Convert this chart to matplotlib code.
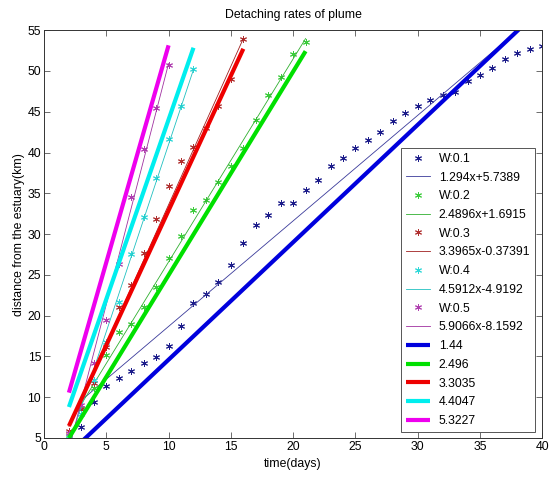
import numpy as np
import matplotlib
matplotlib.use("Agg")
import matplotlib.pyplot as plt

plt.rcParams["font.family"] = ["Liberation Sans", "DejaVu Sans"]
plt.rcParams["font.size"] = 8.8

# measured points (day, distance km) for each width W
days_w1 = np.arange(3, 41)
dist_w1 = [6.4, 9.4, 11.4, 12.3, 13.2, 14.2, 14.9, 16.3, 18.7, 21.6,
           22.7, 24.1, 26.2, 28.9, 31.1, 32.4, 33.8, 33.8, 35.4, 36.6,
           38.3, 39.3, 40.6, 41.5, 42.5, 43.9, 44.8, 45.7, 46.5, 47.0,
           47.4, 48.8, 49.5, 50.4, 51.5, 52.2, 52.7, 53.1]
days_w2 = np.arange(2, 22)
dist_w2 = [5.0, 8.7, 11.1, 15.2, 18.0, 19.0, 21.0, 23.5, 27.1, 29.8,
           32.9, 34.2, 36.4, 38.3, 40.5, 44.0, 47.1, 49.3, 52.1, 53.5]
days_w3 = np.arange(2, 17)
dist_w3 = [5.8, 8.5, 11.7, 16.1, 21.0, 23.7, 27.7, 31.8, 35.9, 39.0,
           40.7, 43.0, 45.7, 49.0, 53.9]
days_w4 = np.arange(2, 13)
dist_w4 = [5.2, 8.0, 12.1, 16.8, 21.7, 27.6, 32.1, 36.9, 41.7, 45.7, 50.2]
days_w5 = np.arange(2, 11)
dist_w5 = [5.65, 9.0, 14.2, 19.5, 26.3, 34.5, 40.4, 45.4, 50.7]

widths = ["W:0.1", "W:0.2", "W:0.3", "W:0.4", "W:0.5"]
days = [days_w1, days_w2, days_w3, days_w4, days_w5]
dists = [dist_w1, dist_w2, dist_w3, dist_w4, dist_w5]

# linear fits y = a*x + b
fit_a = [1.294, 2.4896, 3.3965, 4.5912, 5.9066]
fit_b = [5.7389, 1.6915, -0.37391, -4.9192, -8.1592]
fit_labels = ["1.294x+5.7389", "2.4896x+1.6915", "3.3965x-0.37391",
              "4.5912x-4.9192", "5.9066x-8.1592"]

# detaching-rate lines: slope and value at day 2
rates = [1.44, 2.496, 3.3035, 4.4047, 5.3227]
rate_labels = ["1.44", "2.496", "3.3035", "4.4047", "5.3227"]
rate_y0 = [3.08, 5.0, 6.47, 8.8, 10.56]

mark_colors = ["#1c1c8a", "#3ccc3c", "#b03030", "#30d8d8", "#b040b0"]
fit_colors = ["#3a3a9a", "#30b030", "#a02020", "#20c0c0", "#a030a0"]
thick_colors = ["#0000dd", "#00e000", "#ee0000", "#00eeee", "#ee00ee"]

fig = plt.figure(figsize=(5.5, 4.79), dpi=100)
ax = fig.add_axes([0.08, 0.0856, 0.906, 0.8514])

star = (6, 2, 0)
for i in range(5):
    x = days[i]
    ax.plot(x, dists[i], linestyle="none", marker=star, markersize=5,
            markeredgewidth=0.7, color=mark_colors[i], label=widths[i])
    ax.plot(x, fit_a[i] * x + fit_b[i], color=fit_colors[i], linewidth=0.6,
            label=fit_labels[i])
for i in range(5):
    x = np.array([2, days[i][-1]])
    ax.plot(x, rate_y0[i] + rates[i] * (x - 2), color=thick_colors[i],
            linewidth=3, label=rate_labels[i], solid_capstyle="butt")

ax.set_xlim(0, 40)
ax.set_ylim(5, 55)
ax.set_xticks(np.arange(0, 41, 5))
ax.set_yticks(np.arange(5, 56, 5))
ax.tick_params(direction="in", top=True, right=True, length=4, width=0.6,
               color="#555555", labelsize=8.8, pad=2)
for s in ax.spines.values():
    s.set_linewidth(0.7)
    s.set_color("#333333")

ax.set_title("Detaching rates of plume", fontsize=8.8, pad=9)
ax.set_xlabel("time(days)", labelpad=4)
ax.set_ylabel("distance from the estuary(km)", labelpad=2)

leg = ax.legend(loc="lower right", bbox_to_anchor=(0.986, 0.015),
                borderaxespad=0, fancybox=False, framealpha=1,
                edgecolor="#555555", fontsize=8.8, handlelength=2.0,
                handletextpad=0.7, labelspacing=0.55, borderpad=0.4)
leg.get_frame().set_linewidth(0.7)

fig.savefig("out.png", dpi=100)
